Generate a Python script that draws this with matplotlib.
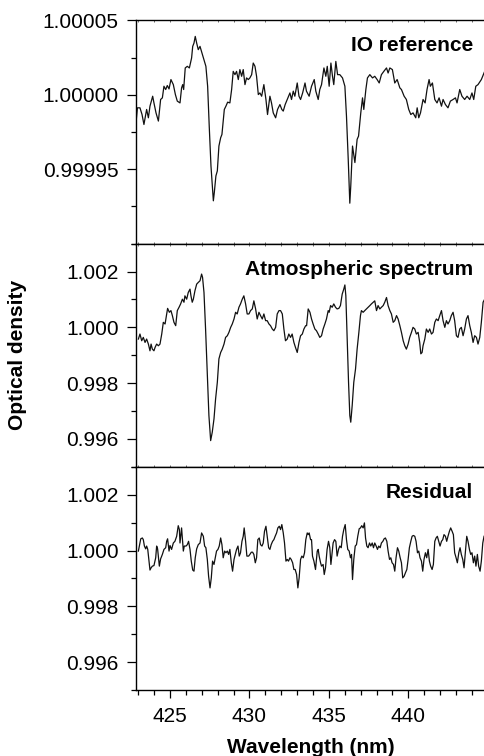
import numpy as np
import matplotlib
matplotlib.use('Agg')
import matplotlib.pyplot as plt
from matplotlib.ticker import MultipleLocator, FixedLocator, FormatStrFormatter

plt.rcParams['font.family'] = ['Liberation Sans', 'DejaVu Sans']

# ----------------------------------- data -----------------------------------
# IO reference : optical density - 1, in units of 1e-5
io_wl = [422.86, 422.95, 423.11, 423.24, 423.36, 423.53, 423.64, 423.74, 423.85, 423.91,
         423.99, 424.12, 424.27, 424.41, 424.52, 424.62, 424.73, 424.83, 424.94, 425.06,
         425.21, 425.34, 425.46, 425.63, 425.73, 425.80, 425.86, 425.96, 426.09, 426.22,
         426.36, 426.43, 426.51, 426.59, 426.68, 426.78, 426.89, 426.95, 427.10, 427.26,
         427.37, 427.47, 427.58, 427.73, 427.79, 427.89, 427.98, 428.08, 428.19, 428.27,
         428.42, 428.52, 428.63, 428.77, 428.88, 428.98, 429.09, 429.19, 429.30, 429.40,
         429.51, 429.61, 429.72, 429.82, 429.93, 430.03, 430.14, 430.24, 430.35, 430.45,
         430.56, 430.66, 430.77, 430.91, 431.04, 431.14, 431.29, 431.39, 431.50, 431.65,
         431.77, 431.92, 432.04, 432.13, 432.25, 432.38, 432.55, 432.65, 432.76, 432.86,
         433.01, 433.12, 433.22, 433.35, 433.50, 433.59,
         433.76, 433.91, 434.08, 434.18, 434.33, 434.43, 434.54, 434.69, 434.81, 434.90,
         435.02, 435.13, 435.23, 435.31, 435.44, 435.55, 435.69, 435.86, 436.01, 436.11,
         436.22, 436.32, 436.38, 436.49, 436.64, 436.78, 436.87, 437.01, 437.12, 437.20,
         437.33, 437.43, 437.58, 437.75, 437.89, 438.04, 438.17, 438.31, 438.46, 438.63,
         438.73, 438.84, 439.00, 439.15, 439.30, 439.47, 439.57, 439.74, 439.88, 440.03,
         440.16, 440.30, 440.47, 440.56, 440.66, 440.77, 440.93, 441.06, 441.18, 441.31,
         441.39, 441.52, 441.67, 441.81, 441.94, 442.09, 442.19, 442.34, 442.50, 442.65,
         442.82, 442.97, 443.07, 443.24, 443.38, 443.55, 443.70, 443.87, 444.01, 444.12,
         444.25, 444.39, 444.60, 444.81]
io_dev = [-1.88, -0.87, -0.87, -1.32, -1.99, -0.98, -1.54, -0.76, -0.31, -0.09,
          -0.54, -1.21, -1.76, -0.31, -0.20, 0.58, 0.36, 0.63, 0.40, 1.03,
          0.69, 0.02, -0.42, -0.54, 0.47, 0.69, 0.36, 1.81, 1.92, 1.81,
          2.48, 3.26, 3.48, 3.93, 3.48, 3.04, 3.26, 3.04, 2.48, 1.92,
          0.58, -2.10, -4.78, -7.12, -6.56, -5.45, -5.11, -3.44, -2.88, -2.66,
          -0.98, -0.76, -0.49, -0.54, 0.36, 1.58, 1.36, 1.58, 1.03, 1.70,
          1.25, 1.70, 0.69, 1.14, 1.03, 1.14, 1.36, 2.14, 1.92, 1.25,
          0.02, 0.13, -0.09, 0.69, -0.31, -1.32, -0.09, -0.54, -1.21, -1.54,
          -0.98, -0.65, -0.98, -1.09, -0.65, -0.31, 0.13, -0.31, 0.25, -0.09,
          0.80, -0.09, -0.31, 0.13, 0.80, 0.25,
          -0.09, 0.58, 1.03, 0.25, -0.31, 0.36, 0.69, 1.81, 1.25, 1.92,
          0.58, 2.14, 1.25, 0.69, 2.25, 1.36, 1.36, 1.14, 0.58, -1.43,
          -4.33, -7.28, -6.12, -3.44, -4.55, -2.99, -2.77, -1.21, -0.20, -0.98,
          0.36, 1.14, 1.36, 1.14, 1.25, 1.03, 0.80, 1.36, 1.58, 1.81,
          1.47, 1.81, 1.70, 0.80, 1.03, 0.47, 0.36, -0.09, -0.31, -0.98,
          -1.32, -1.21, -1.54, -0.87, -1.54, -1.21, -0.31, -0.54, 0.36, 1.03,
          0.58, 0.80, -0.31, -0.54, -0.20, -0.76, -0.31, -0.65, -0.87, -0.42,
          -0.31, -0.20, -0.54, 0.36, -0.09, -0.31, -0.09, -0.31, 0.13, -0.31,
          0.58, 0.69, 1.03, 1.58]

# Atmospheric spectrum : optical density - 1, in units of 1e-3
atm_wl = [423.01, 423.11, 423.22, 423.32, 423.43, 423.53, 423.64, 423.74, 423.81, 423.89,
          423.99, 424.06, 424.16, 424.27, 424.37, 424.48, 424.58, 424.69, 424.79, 424.85,
          424.96, 425.06, 425.15, 425.25, 425.36, 425.46, 425.57, 425.67, 425.78, 425.88,
          425.94, 426.05, 426.15, 426.26, 426.32, 426.40, 426.47, 426.57, 426.68, 426.78,
          426.89, 426.99, 427.05, 427.14, 427.24, 427.35, 427.45, 427.56, 427.66, 427.77,
          427.87, 427.98, 428.08, 428.19, 428.29, 428.40, 428.50, 428.61, 428.71, 428.82,
          428.92, 429.03, 429.13, 429.23, 429.34, 429.44, 429.55, 429.65, 429.76, 429.86,
          429.97, 430.07, 430.18, 430.28, 430.39, 430.49, 430.60, 430.70, 430.81, 430.91,
          431.02, 431.12, 431.23, 431.33, 431.44, 431.54, 431.65, 431.75, 431.86, 431.96,
          432.07, 432.17, 432.27, 432.38, 432.48, 432.59, 432.69, 432.80, 432.90, 433.01,
          433.12, 433.22, 433.33, 433.43, 433.54,
          433.60, 433.70, 433.81, 433.91, 434.01, 434.12, 434.22, 434.33, 434.43, 434.54,
          434.64, 434.75, 434.85, 434.96, 435.02, 435.11, 435.21, 435.31, 435.42, 435.52,
          435.63, 435.73, 435.84, 435.94, 436.01, 436.07, 436.15, 436.24, 436.32, 436.38,
          436.47, 436.57, 436.68, 436.78, 436.89, 436.99, 437.05, 437.16, 437.26, 437.37,
          437.47, 437.58, 437.68, 437.79, 437.89, 438.00, 438.10, 438.21, 438.31, 438.42,
          438.52, 438.63, 438.73, 438.84, 438.94, 439.05, 439.15, 439.26, 439.36, 439.47,
          439.57, 439.68, 439.78, 439.88, 439.99, 440.09, 440.20, 440.30, 440.41, 440.51,
          440.62, 440.72, 440.79, 440.87, 440.93, 441.04, 441.14, 441.25, 441.35, 441.46,
          441.56, 441.67, 441.77, 441.88, 441.98, 442.09, 442.19, 442.30, 442.40, 442.50,
          442.61, 442.71, 442.82, 442.92, 443.03, 443.13, 443.24, 443.34, 443.45, 443.55,
          443.66, 443.76, 443.87, 443.97, 444.08, 444.18, 444.29, 444.39, 444.50, 444.60,
          444.71, 444.81]
atm_dev = [-0.42, -0.24, -0.48, -0.36, -0.54, -0.42, -0.60, -0.84, -0.60, -0.78,
           -0.84, -0.72, -0.60, -0.66, -0.60, -0.24, 0.18, 0.12, 0.48, 0.68,
           0.54, 0.60, 0.42, 0.18, 0.06, 0.60, 0.72, 0.84, 1.01, 0.90,
           1.13, 1.01, 1.25, 1.37, 1.13, 0.90, 1.01, 1.31, 1.55, 1.61,
           1.67, 1.91, 1.79, 1.25, -0.06, -1.73, -3.16, -4.06, -3.76, -3.28,
           -2.57, -1.97, -1.13, -0.90, -0.78, -0.60, -0.36, -0.30, -0.18, 0.00,
           0.12, 0.30, 0.54, 0.48, 0.72, 0.84, 1.01, 1.13, 0.84, 0.48,
           0.48, 0.60, 0.66, 0.95, 0.66, 0.30, 0.54, 0.42, 0.30, 0.48,
           0.24, 0.24, 0.12, 0.06, -0.06, -0.12, 0.00, 0.48, 0.60, 0.60,
           0.48, -0.06, -0.48, -0.42, -0.24, -0.36, -0.24, -0.54, -0.72, -0.90,
           -0.54, -0.30, -0.24, -0.06, 0.06,
           0.06, 0.66, 0.54, 0.30, 0.12, -0.06, -0.12, -0.24, -0.36, -0.30,
           -0.06, 0.12, 0.30, 0.60, 0.54, 0.78, 0.72, 0.84, 0.72, 0.66,
           0.68, 0.78, 1.19, 1.37, 1.52, 1.13, -0.30, -1.97, -3.16, -3.40,
           -2.80, -1.97, -1.49, -0.78, -0.18, 0.42, 0.60, 0.54, 0.60, 0.66,
           0.72, 0.78, 0.84, 0.90, 0.95, 0.60, 0.78, 0.66, 0.72, 0.78,
           0.90, 1.07, 0.78, 0.60, 0.48, 0.18, 0.24, 0.42, 0.30, 0.06,
           -0.18, -0.48, -0.66, -0.78, -0.60, -0.36, -0.18, 0.00, -0.06, -0.24,
           -0.18, -0.54, -0.95, -0.90, -0.66, -0.42, -0.06, -0.18, -0.06, -0.24,
           -0.18, 0.18, 0.30, 0.24, 0.42, 0.60, 0.24, 0.00, 0.24, 0.12,
           0.24, 0.42, 0.54, 0.24, -0.30, -0.36, -0.06, 0.00, -0.30, -0.06,
           0.30, 0.42, 0.06, -0.18, -0.54, -0.30, -0.36, -0.60, -0.36, 0.18,
           0.90, 1.01]

# Residual : optical density - 1, in units of 1e-3
res_wl = [423.01, 423.07, 423.16, 423.26, 423.32, 423.39, 423.47, 423.53, 423.60, 423.68,
          423.74, 423.81, 423.89, 423.99, 424.10, 424.16, 424.22, 424.33, 424.41, 424.52,
          424.62, 424.73, 424.79, 424.85, 424.94, 425.00, 425.10, 425.21, 425.31, 425.42,
          425.52, 425.59, 425.63, 425.73, 425.84, 425.90, 426.01, 426.09, 426.17, 426.26,
          426.34, 426.43, 426.51, 426.59, 426.68, 426.78, 426.89, 426.99, 427.10, 427.18,
          427.26, 427.35, 427.43, 427.52, 427.60, 427.68, 427.77, 427.85, 427.93, 428.02,
          428.10, 428.19, 428.27, 428.35, 428.44, 428.52, 428.61, 428.69, 428.77, 428.86,
          428.94, 429.03, 429.11, 429.19, 429.28, 429.36, 429.44, 429.53, 429.61, 429.67,
          429.76, 429.84, 429.95, 430.03, 430.12, 430.20, 430.28, 430.37, 430.45, 430.53,
          430.62, 430.70, 430.79, 430.87, 430.95, 431.04, 431.12, 431.21, 431.29, 431.37,
          431.46, 431.54, 431.62, 431.71, 431.79, 431.88, 431.96, 432.04, 432.13, 432.21,
          432.30, 432.38, 432.46, 432.55, 432.63, 432.72, 432.80, 432.88, 432.97, 433.05,
          433.13, 433.22, 433.30, 433.39, 433.47, 433.55, 433.64,
          433.70, 433.76, 433.85, 433.91, 433.97, 434.06, 434.16, 434.27, 434.33, 434.39,
          434.48, 434.54, 434.64, 434.71, 434.79, 434.89, 434.98, 435.06, 435.13, 435.21,
          435.27, 435.36, 435.44, 435.52, 435.61, 435.69, 435.78, 435.86, 435.94, 436.03,
          436.11, 436.19, 436.28, 436.36, 436.43, 436.49, 436.57, 436.66, 436.74, 436.82,
          436.91, 436.99, 437.07, 437.16, 437.24, 437.31, 437.39, 437.47, 437.56, 437.64,
          437.73, 437.81, 437.89, 437.98, 438.06, 438.14, 438.23, 438.31, 438.40, 438.48,
          438.56, 438.65, 438.73, 438.82, 438.90, 438.98, 439.07, 439.15, 439.23, 439.32,
          439.40, 439.49, 439.57, 439.65, 439.74, 439.82, 439.91, 439.99, 440.07, 440.16,
          440.24, 440.32, 440.41, 440.49, 440.58, 440.66, 440.74, 440.83, 440.91, 440.99,
          441.08, 441.16, 441.25, 441.33, 441.41, 441.50, 441.58, 441.67, 441.75, 441.83,
          441.92, 442.00, 442.09, 442.17, 442.25, 442.34, 442.42, 442.50, 442.59, 442.67,
          442.76, 442.84, 442.92, 443.01, 443.09, 443.18, 443.26, 443.34, 443.43, 443.51,
          443.60, 443.68, 443.76, 443.85, 443.93, 444.01, 444.10, 444.18, 444.26, 444.35,
          444.43, 444.52, 444.60, 444.69, 444.77]
res_dev = [-0.02, 0.16, 0.42, 0.45, 0.39, 0.16, 0.06, 0.16, 0.04, -0.38,
           -0.70, -0.62, -0.56, -0.54, -0.26, 0.16, 0.06, -0.56, -0.30, -0.14,
           0.04, 0.10, 0.33, 0.42, -0.02, 0.18, 0.04, 0.27, 0.33, 0.51,
           0.89, 0.75, 0.27, 0.81, -0.02, 0.16, 0.16, 0.21, 0.33, 0.04,
           -0.38, -0.70, -0.74, -0.26, 0.06, 0.21, 0.27, 0.63, 0.51, 0.16,
           0.10, -0.32, -0.92, -1.34, -0.98, -0.38, -0.50, -0.26, -0.02, 0.04,
           0.16, 0.45, 0.21, -0.26, -0.02, -0.08, -0.02, -0.14, 0.04, -0.44,
           -0.74, -0.32, -0.14, 0.04, 0.16, -0.20, -0.08, 0.33, 0.51, 0.81,
           0.33, -0.20, -0.20, -0.14, -0.06, -0.06, -0.14, -0.44, -0.26, 0.39,
           0.45, 0.21, 0.16, 0.27, 0.69, 0.87, 0.51, 0.10, 0.04, 0.21,
           0.33, 0.39, 0.51, 0.63, 0.81, 0.87, 0.75, 0.93, 0.63, 0.27,
           -0.38, -0.32, -0.38, -0.26, -0.32, -0.44, -0.68, -0.68, -0.86, -1.34,
           -0.98, -0.32, -0.20, -0.26, -0.08, 0.39, 0.63,
           0.57, 0.63, 0.39, 0.39, -0.20, -0.38, -0.68, -0.02, 0.04, -0.20,
           -0.44, -0.56, -0.50, -0.86, -0.62, 0.04, 0.33, 0.10, -0.50, -0.08,
           0.27, 0.39, 0.33, -0.20, 0.04, 0.16, 0.10, 0.51, 0.75, 0.93,
           0.39, 0.04, -0.02, -0.26, -0.14, -1.04, -0.32, 0.16, 0.21, 0.51,
           0.78, 0.81, 0.89, 0.81, 0.99, 0.45, 0.16, 0.10, 0.27, 0.16,
           0.27, 0.10, 0.27, 0.16, 0.04, 0.16, 0.10, 0.27, 0.33, 0.42,
           0.45, 0.33, -0.02, -0.32, -0.26, -0.44, -0.50, -0.74, -0.26, 0.10,
           -0.02, -0.26, -0.44, -0.98, -0.92, -0.80, -0.68, -0.32, 0.10, 0.33,
           0.51, 0.54, 0.51, 0.33, -0.08, -0.02, -0.26, -0.38, -0.74, -0.32,
           -0.08, -0.26, 0.04, -0.38, -0.56, -0.68, -0.50, 0.33, 0.45, 0.51,
           0.33, 0.16, 0.33, 0.39, 0.57, 0.51, 0.33, 0.51, 0.69, 0.81,
           0.69, 0.57, -0.08, -0.26, -0.44, -0.08, 0.10, -0.14, -0.32, -0.62,
           -0.02, 0.51, 0.33, 0.04, -0.14, -0.08, -0.44, -0.20, -0.56, -0.14,
           -0.56, -0.74, -0.38, 0.27, 0.51]

panel_names = ['IO reference', 'Atmospheric spectrum', 'Residual']

io_od = 1 + np.array(io_dev) * 1e-5
atm_od = 1 + np.array(atm_dev) * 1e-3
res_od = 1 + np.array(res_dev) * 1e-3

# ----------------------------------- figure -----------------------------------
fig = plt.figure(figsize=(4.85, 7.56), dpi=100)
left, right = 0.2804, 1.0
top, bottom = 0.9729, 0.0873
h = (top - bottom) / 3
axes = [fig.add_axes([left, top - (i + 1) * h, right - left, h]) for i in range(3)]

series = [(io_wl, io_od), (atm_wl, atm_od), (res_wl, res_od)]
for i, ax in enumerate(axes):
    wl, od = series[i]
    ax.plot(wl, od, color='#111111', linewidth=0.9)
    ax.set_xlim(422.86, 444.83)
    ax.spines['right'].set_visible(False)
    for s in ['left', 'top', 'bottom']:
        ax.spines[s].set_linewidth(1.0)
    ax.xaxis.set_major_locator(MultipleLocator(5))
    ax.xaxis.set_minor_locator(MultipleLocator(1))
    ax.text(0.9656, 0.886, panel_names[i], transform=ax.transAxes, ha='right', va='center',
            fontsize=15, fontweight='bold')
    ax.tick_params(axis='y', which='major', direction='out', length=6.5, width=0.9,
                   labelsize=15, pad=6, right=False)
    ax.tick_params(axis='y', which='minor', direction='out', length=3.8, width=0.9, right=False)
    if i < 2:
        ax.tick_params(axis='x', which='both', direction='in', length=1.5, width=0.6,
                       top=True, bottom=True, labelbottom=False, color='#555555')
    else:
        ax.tick_params(axis='x', which='major', direction='out', length=6, width=0.9,
                       labelsize=15, pad=6, top=False)
        ax.tick_params(axis='x', which='minor', direction='out', length=3.5, width=0.9, top=False)

# top panel y axis
axes[0].set_ylim(0.9999, 1.00005)
axes[0].yaxis.set_major_locator(FixedLocator([0.99995, 1.0, 1.00005]))
axes[0].yaxis.set_minor_locator(FixedLocator([0.9999, 0.999925, 0.999975, 1.000025]))
axes[0].yaxis.set_major_formatter(FormatStrFormatter('%.5f'))

for ax in axes[1:]:
    ax.set_ylim(0.995, 1.003)
    ax.yaxis.set_major_locator(FixedLocator([0.996, 0.998, 1.0, 1.002]))
    ax.yaxis.set_minor_locator(FixedLocator([0.995, 0.997, 0.999, 1.001, 1.003]))
    ax.yaxis.set_major_formatter(FormatStrFormatter('%.3f'))

fig.text(0.037, 0.5304, 'Optical density', rotation=90, ha='center', va='center',
         fontsize=15, fontweight='bold')
fig.text(0.640, 0.0119, 'Wavelength (nm)', ha='center', va='center',
         fontsize=15, fontweight='bold')

plt.savefig('out.png', dpi=100)
